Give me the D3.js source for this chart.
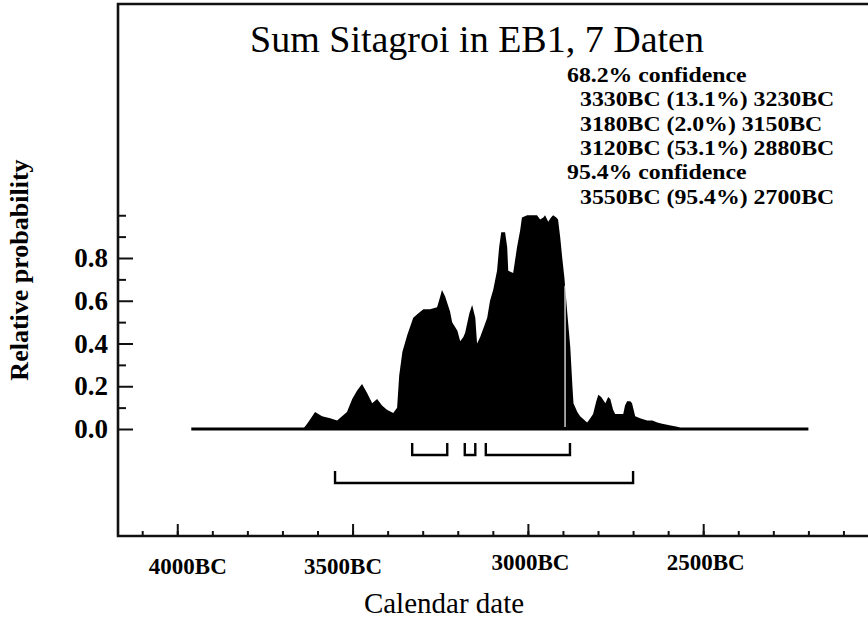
<!DOCTYPE html>
<html><head><meta charset="utf-8">
<script src="https://cdn.jsdelivr.net/npm/d3@7"></script>
<style>body{margin:0;background:#fff}svg{display:block}</style>
</head><body><svg id="c" width="868" height="627"></svg>
<script>
// ---- data (years BC, relative probability) ----
const yearsBC = [3641,3627,3607,3587,3564,3544,3516,3501,3487,3473,3459,3444,3430,3416,3402,3384,3373,3367,3358,3344,3327,3313,3298,3279,3259,3250,3245,3236,3230,3222,3216,3201,3193,3184,3179,3167,3159,3150,3145,3136,3125,3116,3108,3099,3088,3082,3076,3065,3059,3056,3042,3031,3022,3017,3002,2988,2974,2965,2956,2951,2942,2934,2928,2919,2914,2908,2902,2896,2888,2879,2873,2870,2859,2851,2831,2822,2814,2805,2799,2791,2779,2771,2765,2757,2751,2737,2728,2723,2717,2708,2703,2694,2680,2660,2645,2631,2617,2603,2589,2574,2557];
const prob    = [0,0.03,0.08,0.06,0.05,0.04,0.08,0.14,0.18,0.21,0.17,0.12,0.14,0.11,0.09,0.075,0.10,0.25,0.36,0.44,0.52,0.54,0.56,0.56,0.57,0.62,0.65,0.62,0.59,0.55,0.50,0.46,0.41,0.43,0.45,0.54,0.58,0.52,0.40,0.43,0.48,0.52,0.60,0.65,0.74,0.85,0.92,0.92,0.85,0.74,0.73,0.85,0.93,0.99,1.0,1.0,1.0,0.98,0.99,1.0,0.97,0.99,1.0,0.99,0.98,0.90,0.80,0.71,0.55,0.38,0.20,0.12,0.08,0.06,0.03,0.05,0.07,0.13,0.16,0.15,0.12,0.15,0.14,0.09,0.07,0.07,0.07,0.11,0.13,0.13,0.12,0.06,0.05,0.04,0.04,0.03,0.025,0.02,0.015,0.01,0];
const rangeBC = [3960, 2200];
const gapBC = 2894;
const ranges68 = [[3330,3230],[3180,3150],[3120,2880]];
const ranges95 = [[3550,2700]];
const xMinorTicksBC = [4100,4000,3900,3800,3700,3600,3500,3400,3300,3200,3100,3000,2900,2800,2700,2600,2500,2400,2300,2200,2100];
const xMajorTicksBC = [4000,3500,3000,2500];
const yMinorTicks = [0.1,0.3,0.5,0.7,0.9,1.0];
const yMajorTicks = [0,0.2,0.4,0.6,0.8];
const titleText = "Sum Sitagroi in EB1, 7 Daten";
const confHeaders = ["68.2% confidence","95.4% confidence"];
const confLines68 = ["3330BC (13.1%) 3230BC","3180BC (2.0%) 3150BC","3120BC (53.1%) 2880BC"];
const confLines95 = ["3550BC (95.4%) 2700BC"];

const svg = d3.select("#c");
const serif = "'Liberation Serif','Times New Roman',serif";
const L = 118, R = 868, T = 4, B = 536;

const x = d3.scaleLinear().domain([-4169, -2030]).range([L, R]);
const y = d3.scaleLinear().domain([0, 1]).range([429, 215.25]);

svg.append("rect").attr("width",868).attr("height",627).attr("fill","#fff");

// frame
svg.append("path").attr("d",`M${R+2},${T}H${L}V${B}H${R+2}`)
  .attr("fill","none").attr("stroke","#111").attr("stroke-width",2.6);

// distribution
const pts = yearsBC.map((d,i)=>({t:-d, p:prob[i]}));
svg.append("path").datum(pts)
  .attr("d", d3.area().x(d=>x(d.t)).y0(y(0)).y1(d=>y(d.p)))
  .attr("fill","#000");
// thin unfilled bin visible in the print
const gapP = d3.scaleLinear().domain(yearsBC.map(d=>-d)).range(prob)(-gapBC);
svg.append("line").attr("x1",x(-gapBC)).attr("x2",x(-gapBC))
  .attr("y1",y(0)-2).attr("y2",y(gapP)).attr("stroke","#fff").attr("stroke-width",1.2);

// baseline
svg.append("line").attr("x1",x(-rangeBC[0])).attr("x2",x(-rangeBC[1]))
  .attr("y1",y(0)).attr("y2",y(0)).attr("stroke","#000").attr("stroke-width",3);

// brackets
function brackets(list, yy, h){
  list.forEach(r=>{
    svg.append("path").attr("d",`M${x(-r[0])},${yy-h}V${yy}H${x(-r[1])}V${yy-h}`)
      .attr("fill","none").attr("stroke","#000").attr("stroke-width",2.4);
  });
}
brackets(ranges68, 455, 12);
brackets(ranges95, 483, 12);

// x axis
const gx1 = svg.append("g").attr("transform",`translate(0,${B})`)
  .call(d3.axisBottom(x).tickValues(xMinorTicksBC.map(d=>-d)).tickSizeInner(-5).tickSizeOuter(0).tickFormat(""));
const gx2 = svg.append("g").attr("transform",`translate(0,${B})`)
  .call(d3.axisBottom(x).tickValues(xMajorTicksBC.map(d=>-d)).tickSizeInner(-12).tickSizeOuter(0).tickPadding(18).tickFormat(d=>(-d)+"BC"));
[gx1,gx2].forEach(g=>{ g.select(".domain").remove(); g.selectAll("line").attr("stroke","#111").attr("stroke-width",2); });
const labelShift = {"-4000":[10,4], "-3500":[-10,4], "-3000":[2,0], "-2500":[2,0]};
gx2.selectAll("text").attr("font-family",serif).attr("font-weight","bold").attr("font-size",23).attr("fill","#000")
  .attr("dx",d=>labelShift[d][0]).attr("transform",d=>`translate(0,${labelShift[d][1]})`);

// y axis
const gy1 = svg.append("g").attr("transform",`translate(${L},0)`)
  .call(d3.axisLeft(y).tickValues(yMinorTicks).tickSizeInner(-8).tickSizeOuter(0).tickFormat(""));
const gy2 = svg.append("g").attr("transform",`translate(${L},0)`)
  .call(d3.axisLeft(y).tickValues(yMajorTicks).tickSizeInner(-15).tickSizeOuter(0).tickPadding(10).tickFormat(d3.format(".1f")));
[gy1,gy2].forEach(g=>{ g.select(".domain").remove(); g.selectAll("line").attr("stroke","#111").attr("stroke-width",2); });
gy2.selectAll("text").attr("font-family",serif).attr("font-weight","bold").attr("font-size",27).attr("fill","#000");

// titles
svg.append("text").attr("x",477).attr("y",52).attr("text-anchor","middle")
  .attr("font-family",serif).attr("font-size",38).text(titleText);
svg.append("text").attr("x",444).attr("y",613).attr("text-anchor","middle")
  .attr("font-family",serif).attr("font-size",29).text("Calendar date");
svg.append("text").attr("transform","translate(28,270) rotate(-90)").attr("text-anchor","middle")
  .attr("font-family",serif).attr("font-weight","bold").attr("font-size",26).text("Relative probability");

// confidence text (condensed bold serif as in the print)
const conf = [
  {t:confHeaders[0], x:567},
  ...confLines68.map(t=>({t, x:580})),
  {t:confHeaders[1], x:567},
  ...confLines95.map(t=>({t, x:580}))
];
svg.selectAll("text.conf").data(conf).enter().append("text").attr("class","conf")
  .attr("transform",(d,i)=>`translate(${d.x},${82+i*24.3}) scale(1.16,1)`)
  .attr("font-family",serif).attr("font-weight","bold").attr("font-size",20.5)
  .text(d=>d.t);
</script></body></html>
